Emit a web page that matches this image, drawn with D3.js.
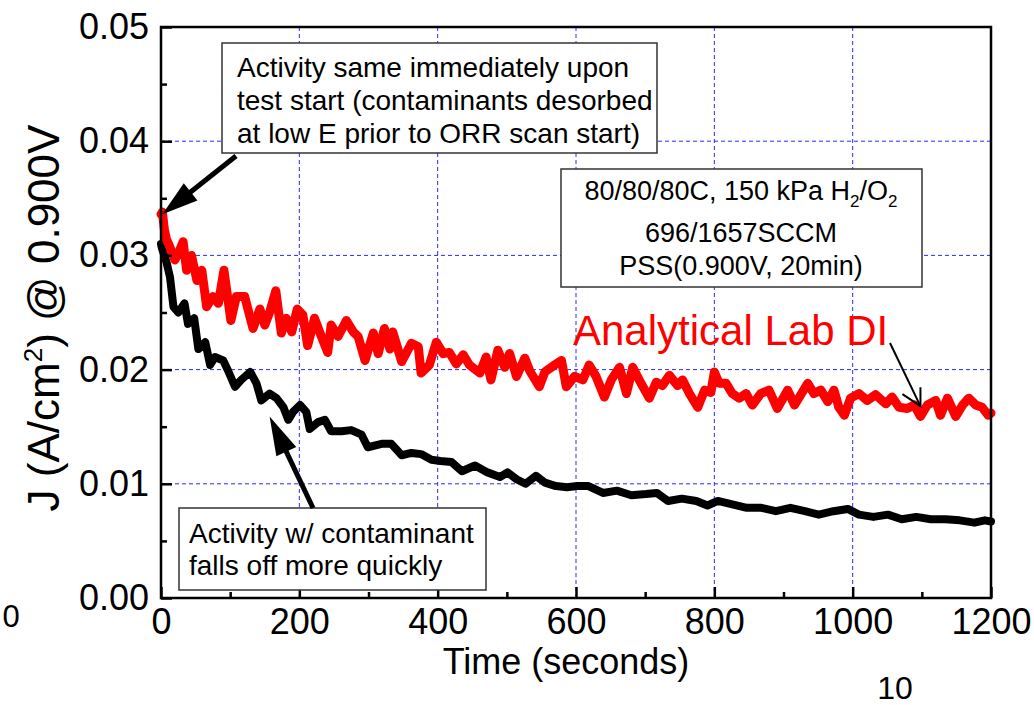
<!DOCTYPE html>
<html><head><meta charset="utf-8">
<script src="https://cdn.jsdelivr.net/npm/d3@7"></script>
<style>
html,body{margin:0;padding:0;background:#fff;}
svg{display:block;}
text{font-family:"Liberation Sans", Arial, Helvetica, sans-serif;fill:#000;}
</style></head><body>
<svg id="chart" width="1034" height="705"></svg>
<script>
// Current density at 0.900 V during the 20-minute potentiostatic hold
const labTime = [0,2,5,8,13,20,26,32,37,44,52,59,66,75,83,91,101,109,121,133,143,150,157,166,174,181,189,197,205,212,222,230,241,246,256,268,278,285,295,307,314,323,331,335,348,362,372,376,388,398,408,417,427,437,446,461,470,477,487,497,504,514,526,533,547,555,569,579,586,598,610,619,629,641,651,663,673,682,694,706,716,725,735,747,754,764,776,786,795,800,807,817,826,836,846,855,867,879,891,906,916,925,935,944,954,964,973,980,988,997,1009,1021,1033,1048,1057,1067,1079,1089,1098,1108,1120,1127,1137,1149,1159,1168,1178,1187,1196,1200];
const labJ = [0.0336,0.0338,0.0322,0.0314,0.0307,0.0296,0.0303,0.0312,0.0287,0.0300,0.0278,0.0287,0.0255,0.0264,0.0258,0.0287,0.0243,0.0264,0.0264,0.0236,0.0253,0.0239,0.0250,0.0269,0.0232,0.0245,0.0233,0.0253,0.0248,0.0221,0.0245,0.0232,0.0215,0.0239,0.0229,0.0243,0.0233,0.0229,0.0208,0.0232,0.0214,0.0236,0.0218,0.0233,0.0207,0.0223,0.0220,0.0197,0.0204,0.0224,0.0214,0.0215,0.0205,0.0213,0.0204,0.0197,0.0211,0.0191,0.0217,0.0202,0.0214,0.0194,0.0210,0.0199,0.0185,0.0198,0.0204,0.0208,0.0185,0.0194,0.0191,0.0204,0.0194,0.0176,0.0191,0.0202,0.0179,0.0202,0.0188,0.0175,0.0189,0.0186,0.0195,0.0186,0.0191,0.0179,0.0167,0.0182,0.0180,0.0198,0.0188,0.0188,0.0179,0.0175,0.0179,0.0169,0.0179,0.0182,0.0166,0.0182,0.0169,0.0178,0.0188,0.0179,0.0182,0.0172,0.0182,0.0167,0.0160,0.0175,0.0179,0.0173,0.0178,0.0170,0.0176,0.0167,0.0166,0.0169,0.0159,0.0169,0.0173,0.0160,0.0175,0.0159,0.0169,0.0175,0.0169,0.0167,0.0160,0.0162];

const contamTime = [0,1,8,13,18,25,34,39,48,54,64,71,78,90,97,107,116,129,138,145,157,167,177,184,191,201,210,215,227,237,246,261,275,290,299,319,333,348,362,376,391,404,420,435,454,472,490,501,514,527,542,555,571,587,602,618,639,659,680,701,717,733,753,774,790,805,826,847,868,889,910,931,951,972,993,1009,1030,1051,1071,1092,1113,1134,1155,1176,1191,1200];
const contamJ = [0.0310,0.0307,0.0294,0.0281,0.0255,0.0250,0.0258,0.0240,0.0245,0.0218,0.0224,0.0204,0.0211,0.0208,0.0199,0.0185,0.0191,0.0198,0.0188,0.0173,0.0179,0.0175,0.0167,0.0156,0.0163,0.0169,0.0163,0.0148,0.0154,0.0156,0.0146,0.0146,0.0147,0.0143,0.0132,0.0135,0.0135,0.0125,0.0127,0.0126,0.0121,0.0120,0.0119,0.0111,0.0116,0.0110,0.0106,0.0110,0.0104,0.0100,0.0107,0.0101,0.0098,0.0097,0.0098,0.0098,0.0092,0.0094,0.0090,0.0091,0.0092,0.0085,0.0087,0.0085,0.0081,0.0085,0.0082,0.0079,0.0079,0.0076,0.0079,0.0076,0.0073,0.0076,0.0078,0.0073,0.0071,0.0073,0.0069,0.0071,0.0069,0.0069,0.0068,0.0066,0.0068,0.0067];

const xTicks = [0,200,400,600,800,1000,1200];
const xMinor = [100,300,500,700,900,1100];
const yTicks = [0.00,0.01,0.02,0.03,0.04,0.05];
const yMinor = [0.005,0.015,0.025,0.035,0.045];
const xGrid = [200,400,600,800,1000];
const yGrid = [0.01,0.02,0.03,0.04];

const svg = d3.select("#chart");
svg.append("rect").attr("width",1034).attr("height",705).attr("fill","#fff");

const x = d3.scaleLinear().domain([0,1200]).range([161,991]);
const y = d3.scaleLinear().domain([0,0.05]).range([598,27]);

// dashed blue grid
const grid = svg.append("g").attr("stroke","#2a2aff").attr("stroke-width",1).attr("stroke-dasharray","4,3");
grid.selectAll("line.v").data(xGrid).join("line").attr("class","v")
  .attr("x1",d=>x(d)).attr("x2",d=>x(d)).attr("y1",y(0.05)).attr("y2",y(0));
grid.selectAll("line.h").data(yGrid).join("line").attr("class","h")
  .attr("x1",x(0)).attr("x2",x(1200)).attr("y1",d=>y(d)).attr("y2",d=>y(d));

// series
const line = d3.line().x(d=>x(d[0])).y(d=>y(d[1]));
const contam = d3.zip(contamTime, contamJ);
const lab = d3.zip(labTime, labJ);
svg.append("path").datum(contam).attr("d",line).attr("fill","none")
  .attr("stroke","#000").attr("stroke-width",8).attr("stroke-linejoin","round").attr("stroke-linecap","round");
svg.append("path").datum(lab).attr("d",line).attr("fill","none")
  .attr("stroke","#ff0000").attr("stroke-width",9).attr("stroke-linejoin","round").attr("stroke-linecap","round");

// axes with inward ticks
const fontTick = "36px";
const xAxis = svg.append("g").attr("transform",`translate(0,${y(0)})`)
  .call(d3.axisBottom(x).tickValues(xTicks).tickSize(-11).tickPadding(10).tickFormat(d3.format("d")));
const xAxisMinor = svg.append("g").attr("transform",`translate(0,${y(0)})`)
  .call(d3.axisBottom(x).tickValues(xMinor).tickSize(-6).tickFormat(""));
const yAxis = svg.append("g").attr("transform",`translate(${x(0)},0)`)
  .call(d3.axisLeft(y).tickValues(yTicks).tickSize(-11).tickPadding(12).tickFormat(d3.format(".2f")));
const yAxisMinor = svg.append("g").attr("transform",`translate(${x(0)},0)`)
  .call(d3.axisLeft(y).tickValues(yMinor).tickSize(-6).tickFormat(""));
[xAxis,xAxisMinor,yAxis,yAxisMinor].forEach(g=>{
  g.select(".domain").remove();
  g.selectAll(".tick line").attr("stroke","#000").attr("stroke-width",2.5);
  g.selectAll(".tick text").attr("font-size",fontTick).attr("fill","#000")
    .style("font-family","Liberation Sans, Arial, sans-serif");
});

// frame
svg.append("rect").attr("x",x(0)).attr("y",y(0.05)).attr("width",x(1200)-x(0)).attr("height",y(0)-y(0.05))
  .attr("fill","none").attr("stroke","#000").attr("stroke-width",2.5);

// axis titles
svg.append("text").attr("x",566).attr("y",674).attr("text-anchor","middle").attr("font-size","36px").text("Time (seconds)");
const yt = svg.append("text").attr("transform","translate(59,318) rotate(-90)").attr("text-anchor","middle").attr("font-size","44px");
yt.append("tspan").text("J (A/cm");
yt.append("tspan").attr("font-size","26px").attr("dy","-17").text("2");
yt.append("tspan").attr("dy","17").text(") @ 0.900V");

// helpers for annotations
function box(x0,y0,w,h){
  svg.append("rect").attr("x",x0).attr("y",y0).attr("width",w).attr("height",h)
    .attr("fill","#fff").attr("stroke","#333").attr("stroke-width",1.5);
}
function thickArrow(x1,y1,x2,y2,w,hl,hw){
  const dx=x2-x1, dy=y2-y1, L=Math.hypot(dx,dy), ux=dx/L, uy=dy/L;
  const bx=x2-ux*hl, by=y2-uy*hl;
  svg.append("line").attr("x1",x1).attr("y1",y1).attr("x2",bx+ux*2).attr("y2",by+uy*2)
    .attr("stroke","#000").attr("stroke-width",w);
  svg.append("polygon").attr("points",[[x2,y2],[bx-uy*hw/2,by+ux*hw/2],[bx+uy*hw/2,by-ux*hw/2]].map(p=>p.join(",")).join(" "))
    .attr("fill","#000");
}

// annotation: start of test
box(222,43,435,110);
const t1 = svg.append("text").attr("font-size","28px");
["Activity same immediately upon","test start (contaminants desorbed","at low E prior to ORR scan start)"]
  .forEach((s,i)=>t1.append("tspan").attr("x",237).attr("y",77+i*33).text(s));
thickArrow(236,156, x(2), y(0.0336), 5, 36, 22);

// annotation: contaminant decay
box(179,508,307,82);
const t3 = svg.append("text").attr("font-size","28px");
["Activity w/ contaminant","falls off more quickly"]
  .forEach((s,i)=>t3.append("tspan").attr("x",189).attr("y",543+i*32).text(s));
thickArrow(313,508, x(157), y(0.0159), 5, 39, 22);

// test conditions
box(561,169,361,118);
const c1 = svg.append("text").attr("x",741).attr("y",200).attr("text-anchor","middle").attr("font-size","27px");
c1.append("tspan").text("80/80/80C, 150 kPa H");
c1.append("tspan").attr("font-size","17px").attr("dy","7").text("2");
c1.append("tspan").attr("dy","-7").text("/O");
c1.append("tspan").attr("font-size","17px").attr("dy","7").text("2");
svg.append("text").attr("x",741).attr("y",242).attr("text-anchor","middle").attr("font-size","27px").text("696/1657SCCM");
svg.append("text").attr("x",741).attr("y",275).attr("text-anchor","middle").attr("font-size","27px").text("PSS(0.900V, 20min)");

// series label with thin pointer
svg.append("text").attr("x",573).attr("y",345).attr("font-size","42px").style("fill","#ff0000").text("Analytical Lab DI");
const tip=[x(1098), y(0.0168)];
svg.append("line").attr("x1",890).attr("y1",343).attr("x2",tip[0]).attr("y2",tip[1]).attr("stroke","#000").attr("stroke-width",2);
svg.append("polyline").attr("points",`${tip[0]-18},${tip[1]-12} ${tip[0]},${tip[1]} ${tip[0]},${tip[1]-19}`)
  .attr("fill","none").attr("stroke","#000").attr("stroke-width",2);

// slide page furniture
svg.append("text").attr("x",11).attr("y",627).attr("text-anchor","middle").attr("font-size","31px").text("0");
svg.append("text").attr("x",895).attr("y",699).attr("text-anchor","middle").attr("font-size","32px").text("10");
</script>
</body></html>
